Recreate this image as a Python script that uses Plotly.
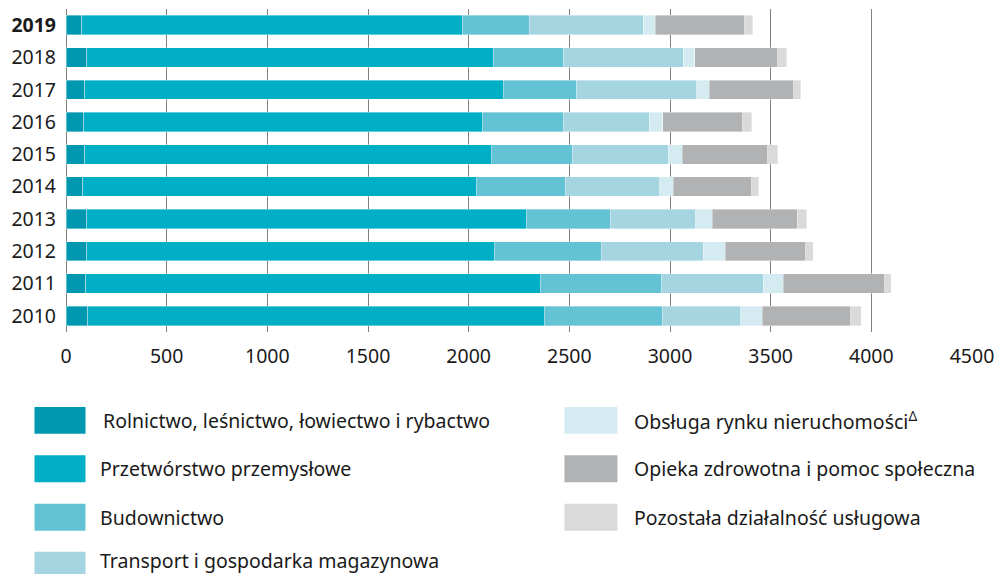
import plotly.graph_objects as go

# dane (lata od dołu do góry)
years = ["2010", "2011", "2012", "2013", "2014", "2015", "2016", "2017", "2018", "2019"]
year_labels = ["2010", "2011", "2012", "2013", "2014", "2015", "2016", "2017", "2018", "<b>2019</b>"]

rolnictwo = [108, 98, 103, 103, 83, 93, 88, 93, 103, 79]
przetworstwo = [2267, 2257, 2025, 2182, 1956, 2019, 1979, 2078, 2019, 1889]
budownictwo = [587, 605, 530, 417, 440, 402, 402, 367, 347, 332]
transport = [390, 502, 506, 427, 471, 478, 427, 596, 596, 566]
nieruchomosci = [106, 100, 110, 81, 65, 68, 69, 60, 59, 60]
opieka = [439, 505, 401, 422, 392, 426, 397, 421, 412, 446]
pozostala = [54, 33, 36, 46, 35, 50, 43, 35, 43, 38]

names = [
    "Rolnictwo, leśnictwo, łowiectwo i rybactwo",
    "Przetwórstwo przemysłowe",
    "Budownictwo",
    "Transport i gospodarka magazynowa",
    "Obsługa rynku nieruchomości<sup>Δ</sup>",
    "Opieka zdrowotna i pomoc społeczna",
    "Pozostała działalność usługowa",
]
colors = ["#0097b0", "#00aec5", "#63c3d5", "#a5d5e0", "#d5ebf2", "#b1b2b4", "#dadada"]
series = [rolnictwo, przetworstwo, budownictwo, transport, nieruchomosci, opieka, pozostala]

FONT = "Noto Sans"
TXT = "#1a1a1a"
FS = 19.5

fig = go.Figure()
for name, col, vals in zip(names, colors, series):
    fig.add_trace(go.Bar(
        y=years, x=vals, orientation="h", name=name,
        marker=dict(color=col, line=dict(color="rgba(255,255,255,0.45)", width=0.8)),
        showlegend=False,
    ))

# własna legenda: duże prostokąty + opisy
W, H = 1003, 574
L, R, T, B = 65.5, 31.4, 8.5, 242
pw, ph = W - L - R, H - T - B

def px_x(p):
    return (p - L) / pw

def px_y(p):
    return (H - B - p) / ph

shapes = []
annotations = []
rows = [420.5, 469, 517.5, 561]
for i, (name, col) in enumerate(zip(names, colors)):
    if i < 4:
        x0, x1, tx, cy = 34, 85, (101 if i == 0 else 97.5), rows[i]
    else:
        x0, x1, tx, cy = 564, 617, 632, rows[i - 4]
    y_top = cy - 13.5 if i != 3 else 552
    shapes.append(dict(type="rect", xref="paper", yref="paper",
                       x0=px_x(x0), x1=px_x(x1), y0=px_y(y_top + 27), y1=px_y(y_top),
                       fillcolor=col, line=dict(width=0), layer="above"))
    annotations.append(dict(xref="paper", yref="paper", x=px_x(tx), y=px_y(cy),
                            xanchor="left", yanchor="middle", showarrow=False,
                            text=name, font=dict(family=FONT, size=FS, color=TXT)))

fig.update_layout(
    width=W, height=H,
    margin=dict(l=L, r=R, t=T, b=B, pad=0),
    plot_bgcolor="white", paper_bgcolor="white",
    barmode="stack", bargap=0.4,
    font=dict(family=FONT, size=FS, color=TXT),
    xaxis=dict(range=[0, 4500], dtick=500, showgrid=True, gridcolor="#808080", gridwidth=1,
               zeroline=True, zerolinecolor="#808080", zerolinewidth=1,
               ticks="", ticklabelstandoff=10, tickfont=dict(size=FS), fixedrange=True),
    yaxis=dict(categoryorder="array", categoryarray=years, tickmode="array",
               tickvals=years, ticktext=year_labels, ticks="", ticklabelstandoff=9,
               range=[-0.5, 9.5], showgrid=False, tickfont=dict(size=FS), fixedrange=True),
    shapes=shapes,
    annotations=annotations,
)

fig.write_html("out.html", config={"displayModeBar": False},
               post_script="document.body.style.margin='0';")
